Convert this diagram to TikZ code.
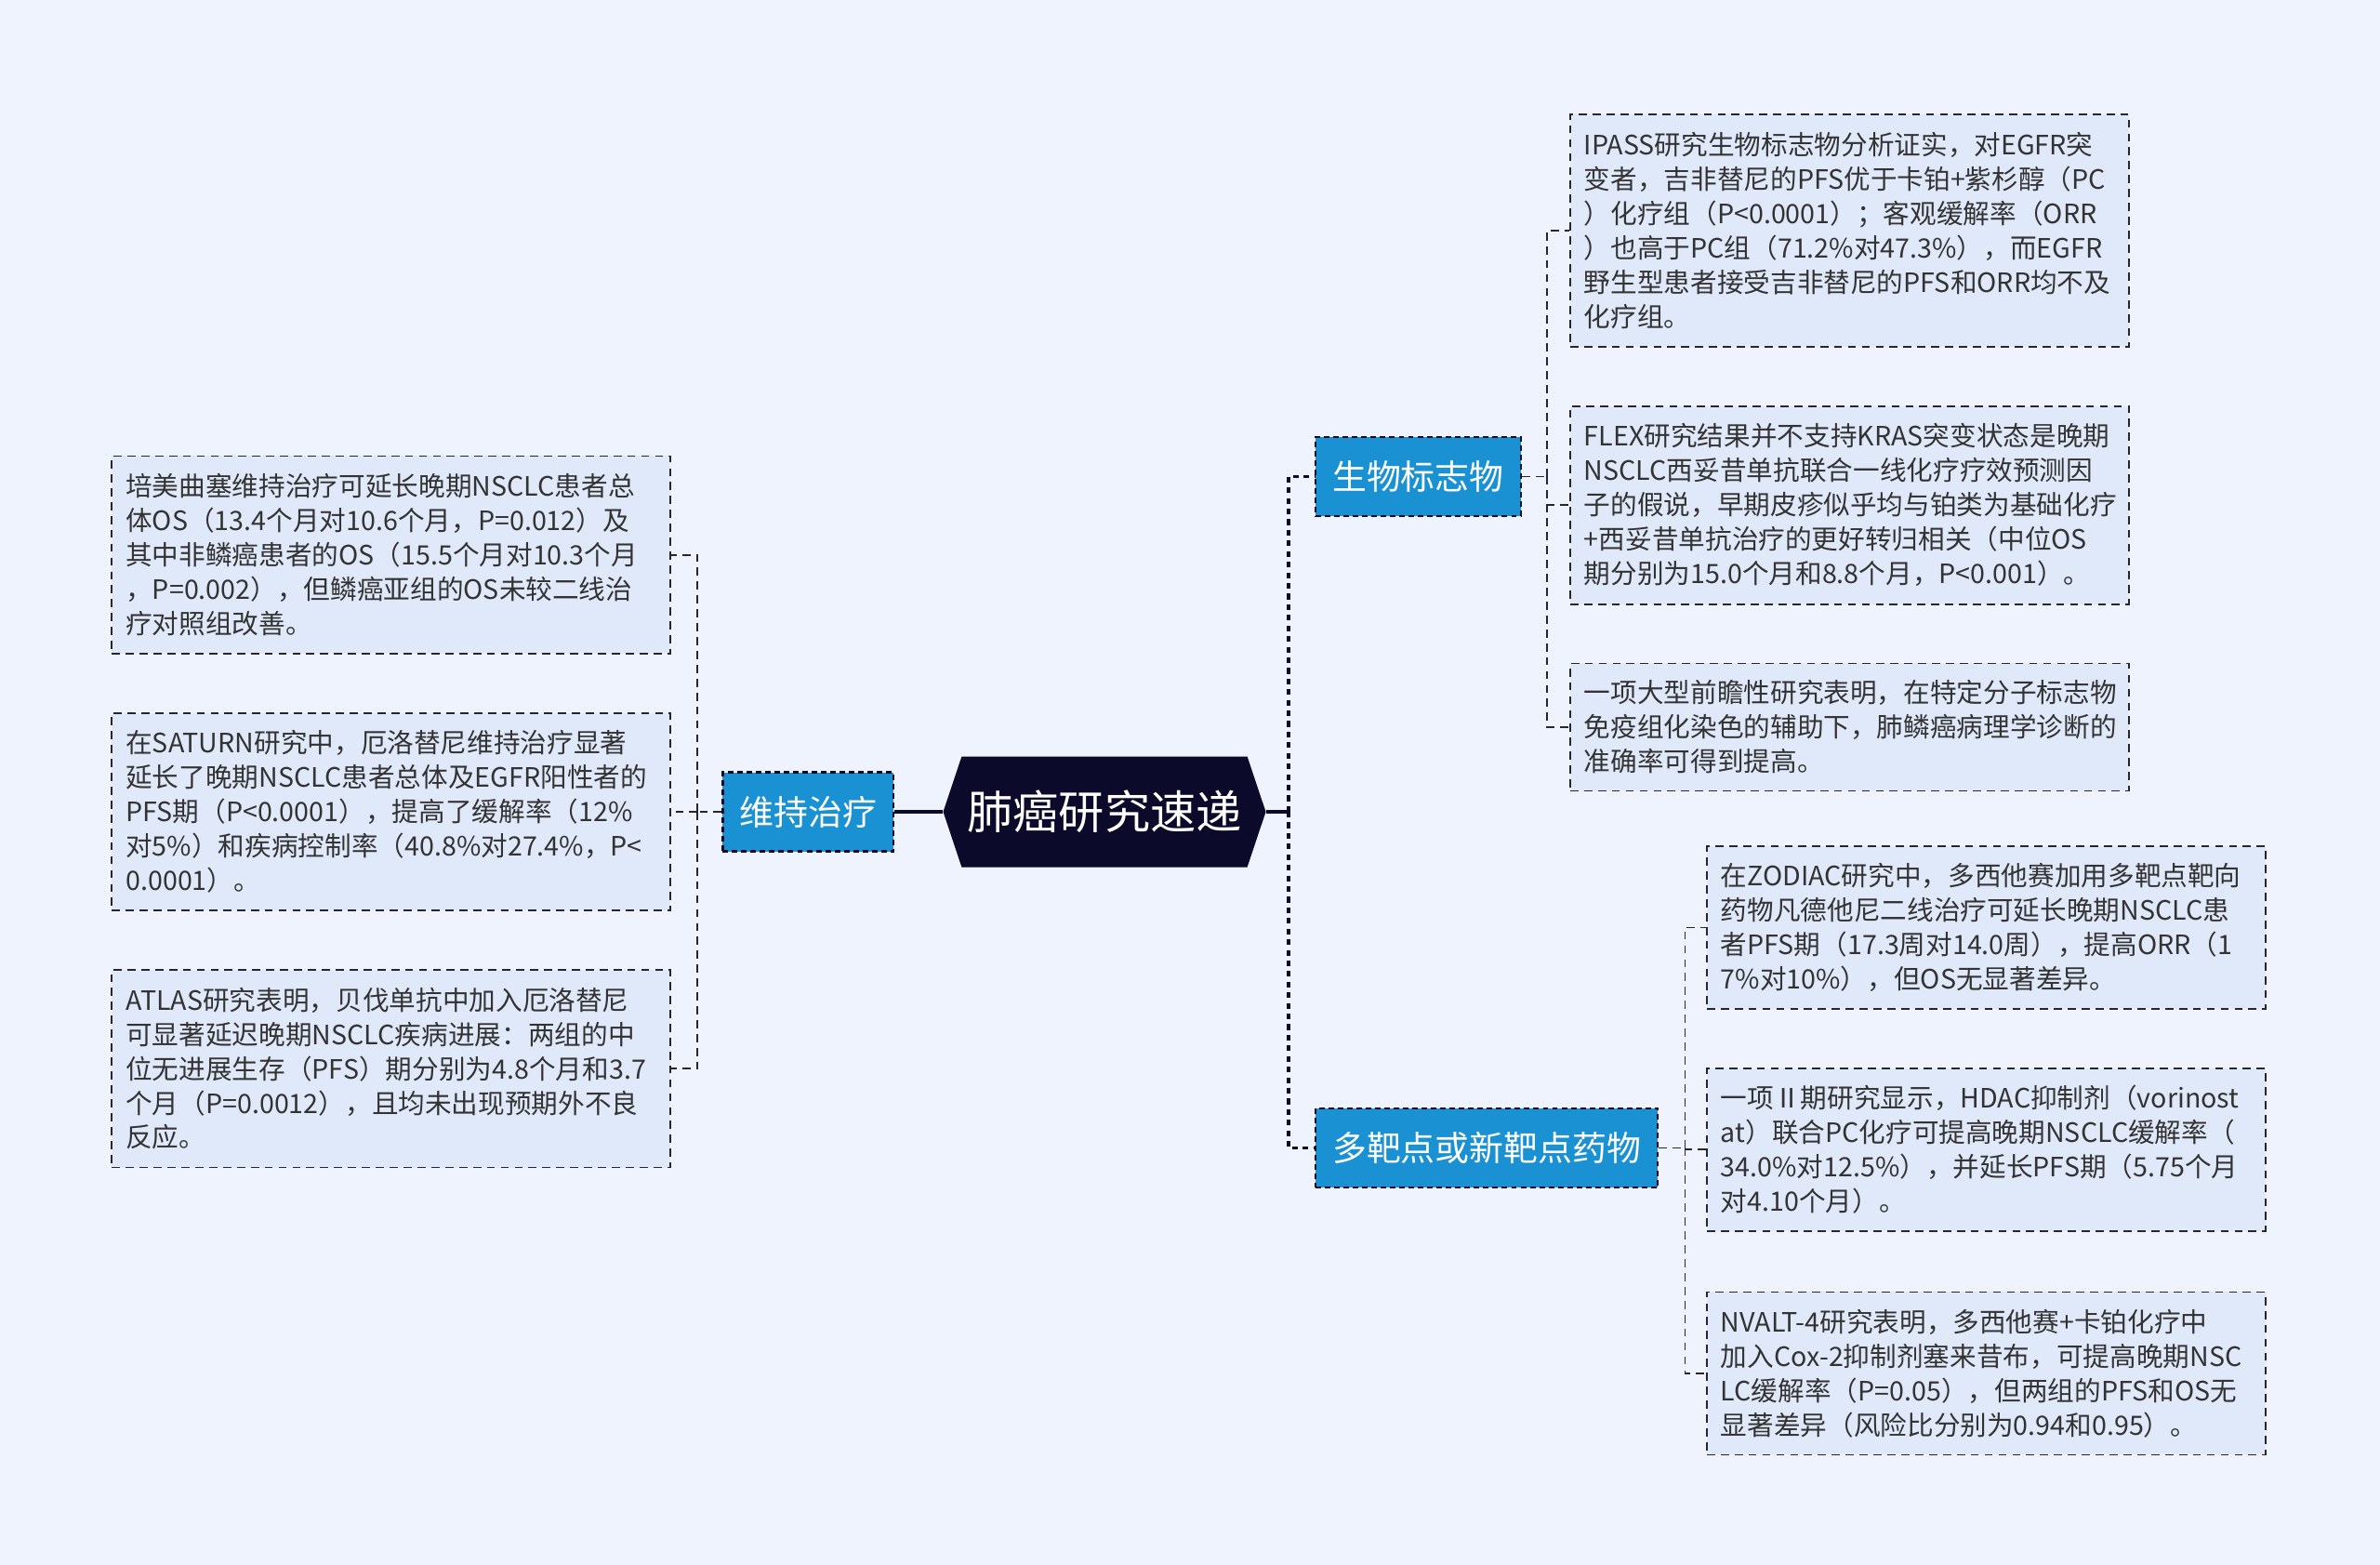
\documentclass[tikz,border=0pt]{standalone}
\usepackage{fontspec}
\setmainfont{Noto Sans CJK SC}
\usepackage{xcolor}
\usepackage{tikz}
\usetikzlibrary{shapes.symbols, positioning, calc}
\definecolor{bgcol}{RGB}{238,243,253}
\definecolor{leafcol}{RGB}{224,233,249}
\definecolor{branchcol}{RGB}{26,145,210}
\definecolor{hubcol}{RGB}{12,10,42}
\definecolor{inkcol}{RGB}{51,51,51}
\definecolor{rulecol}{RGB}{38,38,44}
\exhyphenpenalty=10000
\hyphenpenalty=10000
\tikzstyle{hub} = [signal, signal to=west and east, signal pointer angle=143,
    fill=hubcol, text=white, minimum width=6.94cm, minimum height=2.38cm,
    font=\fontsize{28}{32}\selectfont]
\tikzstyle{branch} = [rectangle, draw=hubcol, line width=1.3pt,
    dash pattern=on 3.4pt off 2.3pt, fill=branchcol, text=white,
    minimum height=1.7cm, inner xsep=0.36cm, font=\fontsize{21}{24}\selectfont]
\tikzstyle{leaf} = [rectangle, draw=rulecol, line width=1pt,
    dash pattern=on 5pt off 3.5pt, fill=leafcol, text=inkcol,
    text width=11.42cm, inner xsep=0.3cm, align=left,
    font=\fontsize{16.3}{21}\selectfont]
\tikzstyle{trunk} = [draw=hubcol, line width=2pt]
\tikzstyle{twig} = [draw=rulecol, line width=1pt, dash pattern=on 5pt off 3.5pt]

\begin{document}
\begin{tikzpicture}[node distance=1.24cm]
  \fill[bgcol](0,0) rectangle (51.2,-33.66);
  \node[hub](cc) at (23.76,-17.46){肺癌研究速递};
  \node[branch, left=1.04cm of cc](wc){维持治疗};
  \node[branch, anchor=west](bio) at (28.28,-10.25){生物标志物};
  \node[branch, anchor=west](multi) at (28.28,-24.69){多靶点或新靶点药物};

  \node[leaf, minimum height=4.25cm, left=1.08cm of wc](m2){在SATURN研究中，厄洛替尼维持治疗显著\\
    延长了晚期NSCLC患者总体及EGFR阳性者的\\
    PFS期（P<0.0001），提高了缓解率（12\%\\
    对5\%）和疾病控制率（40.8\%对27.4\%，P<\\
    0.0001）。};
  \node[leaf, minimum height=4.25cm, above=of m2](m1){培美曲塞维持治疗可延长晚期NSCLC患者总\\
    体OS（13.4个月对10.6个月，P=0.012）及\\
    其中非鳞癌患者的OS（15.5个月对10.3个月\\
    ，P=0.002），但鳞癌亚组的OS未较二线治\\
    疗对照组改善。};
  \node[leaf, minimum height=4.25cm, below=of m2](m3){ATLAS研究表明，贝伐单抗中加入厄洛替尼\\
    可显著延迟晚期NSCLC疾病进展：两组的中\\
    位无进展生存（PFS）期分别为4.8个月和3.7\\
    个月（P=0.0012），且均未出现预期外不良\\
    反应。};

  \node[leaf, minimum height=5cm, anchor=north west](b1) at (33.76,-2.44){IPASS研究生物标志物分析证实，对EGFR突\\
    变者，吉非替尼的PFS优于卡铂+紫杉醇（PC\\
    ）化疗组（P<0.0001）；客观缓解率（ORR\\
    ）也高于PC组（71.2\%对47.3\%），而EGFR\\
    野生型患者接受吉非替尼的PFS和ORR均不及\\
    化疗组。};
  \node[leaf, minimum height=4.26cm, below=of b1](b2){FLEX研究结果并不支持KRAS突变状态是晚期\\
    NSCLC西妥昔单抗联合一线化疗疗效预测因\\
    子的假说，早期皮疹似乎均与铂类为基础化疗\\
    +西妥昔单抗治疗的更好转归相关（中位OS\\
    期分别为15.0个月和8.8个月，P<0.001）。};
  \node[leaf, minimum height=2.74cm, below=of b2](b3){一项大型前瞻性研究表明，在特定分子标志物\\
    免疫组化染色的辅助下，肺鳞癌病理学诊断的\\
    准确率可得到提高。};

  \node[leaf, minimum height=3.5cm, anchor=north west](t1) at (36.7,-18.18){在ZODIAC研究中，多西他赛加用多靶点靶向\\
    药物凡德他尼二线治疗可延长晚期NSCLC患\\
    者PFS期（17.3周对14.0周），提高ORR（1\\
    7\%对10\%），但OS无显著差异。};
  \node[leaf, minimum height=3.5cm, below=of t1](t2){一项Ⅱ期研究显示，HDAC抑制剂（vorinost\\
    at）联合PC化疗可提高晚期NSCLC缓解率（\\
    34.0\%对12.5\%），并延长PFS期（5.75个月\\
    对4.10个月）。};
  \node[leaf, minimum height=3.5cm, below=1.28cm of t2](t3){NVALT-4研究表明，多西他赛+卡铂化疗中\\
    加入Cox-2抑制剂塞来昔布，可提高晚期NSC\\
    LC缓解率（P=0.05），但两组的PFS和OS无\\
    显著差异（风险比分别为0.94和0.95）。};

  \coordinate(rj) at ($(cc.east)+(0.48,0)$);
  \coordinate(wj) at ($(wc.west)+(-0.52,0)$);
  \coordinate(bj) at ($(bio.east)+(0.54,0)$);
  \coordinate(mj) at ($(multi.east)+(0.56,0)$);

  \draw[trunk](cc.west)--(wc.east);
  \draw[trunk](cc.east)--(rj);
  \draw[trunk, dash pattern=on 3.5pt off 3pt](rj)|-(bio.west);
  \draw[trunk, dash pattern=on 3.5pt off 3pt](rj)|-(multi.west);

  \draw[twig](wc.west)--(wj);
  \draw[twig](wj)|-(m1.east);
  \draw[twig](wj)|-(m2.east);
  \draw[twig](wj)|-(m3.east);

  \draw[twig](bio.east)--(bj);
  \draw[twig](bj)|-(b1.west);
  \draw[twig](bj)|-(b2.west);
  \draw[twig](bj)|-(b3.west);

  \draw[twig](multi.east)--(mj);
  \draw[twig](mj)|-(t1.west);
  \draw[twig](mj)|-(t2.west);
  \draw[twig](mj)|-(t3.west);
\end{tikzpicture}
\end{document}
